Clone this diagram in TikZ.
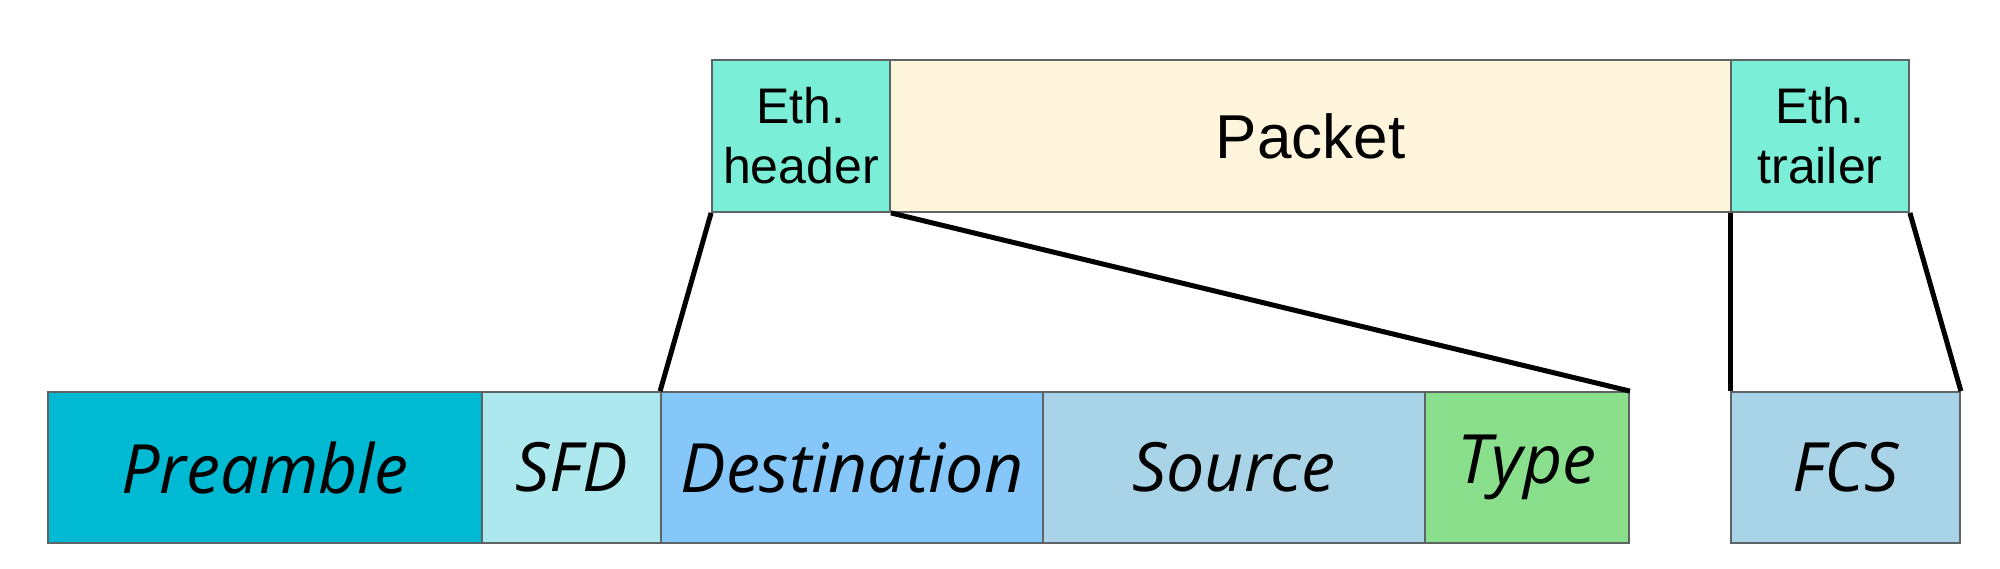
\documentclass[tikz,border=0pt]{standalone}
\usepackage{fontspec}
\setmainfont{Liberation Sans}
\newfontfamily\handfont{Open Sans}
\definecolor{boxgray}{HTML}{5E6466}
\definecolor{preC}{HTML}{00B9D3}
\definecolor{sfdC}{HTML}{ADE8EE}
\definecolor{dstC}{HTML}{85C7F9}
\definecolor{srcC}{HTML}{A9D4E8}
\definecolor{typC}{HTML}{8ADF8C}
\definecolor{ethC}{HTML}{7AEED7}
\definecolor{pktC}{HTML}{FFF5DC}
\begin{document}
\begin{tikzpicture}[x=1pt,y=-1pt,
  box/.style={draw=boxgray, line width=1.8pt, inner sep=0pt, text=black},
  field/.style={box, minimum height=151pt, font=\handfont\itshape\fontsize{68}{72}\selectfont},
  upper/.style={box, minimum height=152pt},
  ethlbl/.style={upper, align=center, font=\fontsize{50}{60}\selectfont},
  zoomline/.style={draw=black, line width=5pt}]
\useasboundingbox (0,0) rectangle (2000,568);
\node[field, fill=preC, minimum width=434pt] (pre) at (265,467.5) {Preamble};
\node[field, fill=sfdC, minimum width=179pt] (sfd) at (571.5,467.5) {SFD};
\node[field, fill=dstC, minimum width=382pt] (dst) at (852,467.5) {Destination};
\node[field, fill=srcC, minimum width=382pt] (src) at (1234,467.5) {Source};
\node[field, fill=typC, minimum width=204pt] (typ) at (1527,467.5) {Type};
\node[field, fill=srcC, minimum width=229pt] (fcs) at (1845.5,467.5) {FCS};
\node[upper, fill=pktC, minimum width=841pt, font=\fontsize{62}{70}\selectfont] (pkt) at (1310.5,136) {Packet};
\node[ethlbl, fill=ethC, minimum width=178pt] (hdr) at (801,136) {Eth.\\header};
\node[ethlbl, fill=ethC, minimum width=178pt] (trl) at (1820,136) {Eth.\\trailer};
\draw[zoomline] (hdr.south west) -- (dst.north west);
\draw[zoomline] (hdr.south east) -- (typ.north east);
\draw[zoomline] (trl.south west) -- (fcs.north west);
\draw[zoomline] (trl.south east) -- (fcs.north east);
\end{tikzpicture}
\end{document}
